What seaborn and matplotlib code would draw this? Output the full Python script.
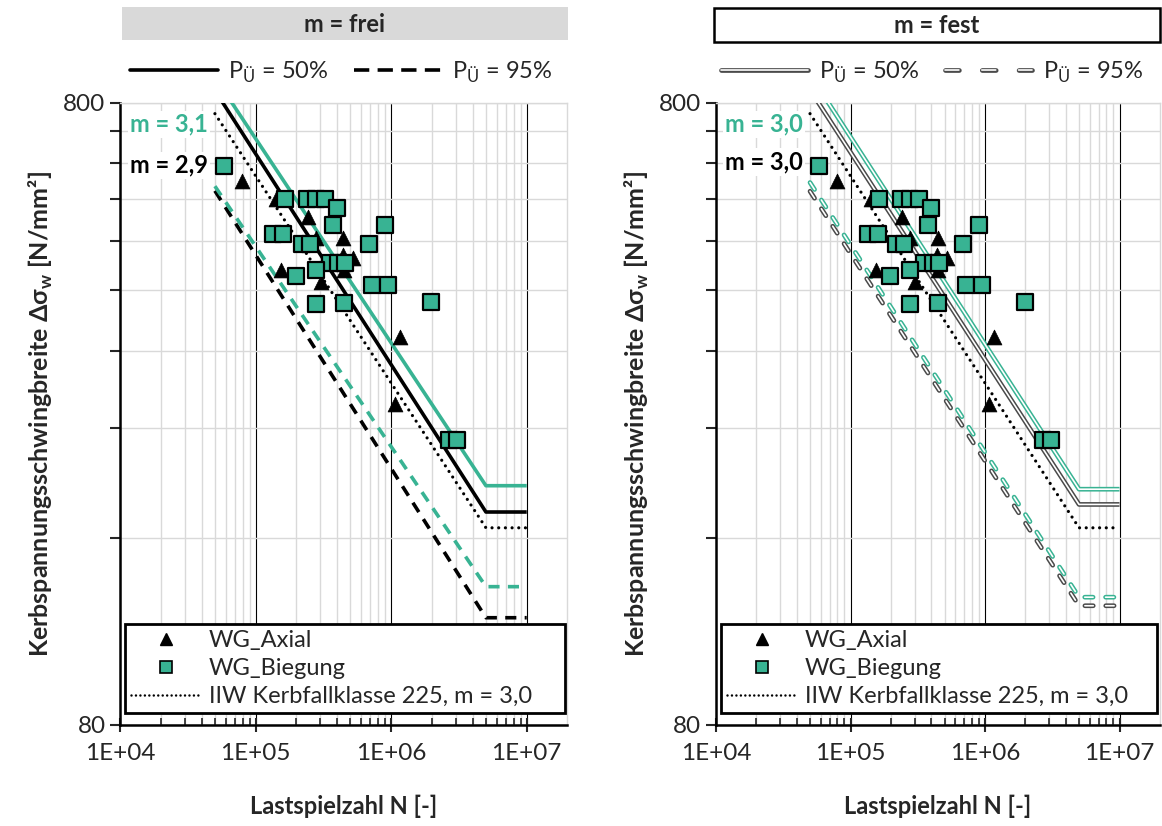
import numpy as np
import matplotlib
matplotlib.use("Agg")
import matplotlib.pyplot as plt
import seaborn as sns
from matplotlib.lines import Line2D
from matplotlib.patches import Rectangle
from matplotlib.ticker import FixedLocator, NullFormatter, FixedFormatter

sns.set_theme(style="white")
plt.rcParams['font.family'] = ['Lato', 'DejaVu Sans']
plt.rcParams['mathtext.fontset'] = 'custom'
plt.rcParams['mathtext.rm'] = 'Lato'
plt.rcParams['mathtext.bf'] = 'Lato:bold'
plt.rcParams['lines.scale_dashes'] = False

# test data
N_axial = [78800, 141000, 154000, 242000, 277000, 302000, 444000, 440000, 520000, 450000, 1070000, 1160000]
S_axial = [600, 560, 431, 525, 486, 413, 486, 455, 450, 431, 263, 337]

N_biegung = [58600, 164000, 238000, 279000, 325000, 396000, 374000, 900000, 135000, 160000,
             218000, 252000, 689000, 353000, 408000, 456000, 277000, 197000, 726000, 944000,
             277000, 451000, 1970000, 2680000, 3070000]
S_biegung = [633, 560, 560, 560, 560, 543, 510, 510, 492, 492,
             475, 475, 475, 442, 442, 442, 431, 422, 408, 408,
             380, 382, 383, 230, 230]

# S-N curves: start, knee point, end
N_curve = [5e4, 5e6, 1e7]
iiw_225 = [769, 166, 166]
# m = frei
frei_axial_50 = [838, 176, 176]
frei_bieg_50 = [880, 194, 194]
frei_axial_95 = [578, 119, 119]
frei_bieg_95 = [588, 133.5, 133.5]
# m = fest
fest_axial_50 = [840, 181, 181]
fest_bieg_50 = [889, 191.5, 191.5]
fest_axial_95 = [577, 124.4, 124.4]
fest_bieg_95 = [596, 128.4, 128.4]

x_ticks = [1e4, 1e5, 1e6, 1e7]
x_labels = ['1E+04', '1E+05', '1E+06', '1E+07']
teal = '#38b393'
grey = '#4a4a4a'
dash = (0, (8, 6))
dash2 = (0, (6, 9))
dots = (0, (0.01, 4.8))

fig = plt.figure(figsize=(11.62, 8.26), dpi=100)
ax1 = fig.add_axes([0.10344, 0.12228, 0.38494, 0.75303])
ax2 = fig.add_axes([0.61618, 0.12228, 0.38210, 0.75303])


def style_axis(ax):
    ax.set_xscale('log')
    ax.set_yscale('log')
    ax.set_xlim(1e4, 2e7)
    ax.set_ylim(80, 800)
    ax.set_facecolor('white')
    ax.set_axisbelow(True)
    xminor = [k * 10**e for e in range(4, 7) for k in range(2, 10)]
    ax.xaxis.set_major_locator(FixedLocator(x_ticks))
    ax.xaxis.set_major_formatter(FixedFormatter(x_labels))
    ax.xaxis.set_minor_locator(FixedLocator(xminor))
    ax.xaxis.set_minor_formatter(NullFormatter())
    ax.yaxis.set_major_locator(FixedLocator([80, 800]))
    ax.yaxis.set_major_formatter(FixedFormatter(['80', '800']))
    ax.yaxis.set_minor_locator(FixedLocator([80 * k for k in range(2, 10)]))
    ax.yaxis.set_minor_formatter(NullFormatter())
    ax.grid(which='minor', color='#d9d9d9', lw=1)
    ax.grid(which='major', axis='y', color='#d9d9d9', lw=1)
    ax.grid(which='major', axis='x', color='black', lw=0.8)
    ax.tick_params(axis='x', which='major', direction='inout', length=10, width=1.5,
                   labelsize=17.5, pad=8, bottom=True)
    ax.tick_params(axis='x', which='minor', direction='in', length=5, width=1.2, bottom=True)
    ax.tick_params(axis='y', which='both', direction='out', length=7, width=1.5,
                   labelsize=17.5, left=True)
    for s in ['left', 'bottom']:
        ax.spines[s].set_color('black')
        ax.spines[s].set_linewidth(1.8)
    for s in ['top', 'right']:
        ax.spines[s].set_color('#d9d9d9')
        ax.spines[s].set_linewidth(1)
    ax.set_xlabel('Lastspielzahl N [-]', fontsize=17, fontweight='bold', labelpad=22)
    ax.set_ylabel('Kerbspannungsschwingbreite Δσ$_\\mathbf{w}$ [N/mm²]', fontsize=18,
                  fontweight='bold', labelpad=6)


def curve(ax, y, color, lw, ls, cap='butt', z=3):
    sns.lineplot(x=N_curve, y=y, ax=ax, color=color, lw=lw, linestyle=ls,
                 dash_capstyle=cap, solid_capstyle='butt', estimator=None, sort=False,
                 legend=False, zorder=z)


def points(ax):
    sns.scatterplot(x=N_axial, y=S_axial, ax=ax, marker='^', s=115, color='black',
                    edgecolor='black', linewidth=0.5, zorder=5, legend=False)
    sns.scatterplot(x=N_biegung, y=S_biegung, ax=ax, marker='s', s=120, color=teal,
                    edgecolor='black', linewidth=1.6, zorder=6, legend=False)


def data_legend(ax):
    h = [Line2D([], [], marker='^', color='black', ls='none', markersize=9),
         Line2D([], [], marker='s', markerfacecolor=teal, markeredgecolor='black',
                markeredgewidth=1.2, ls='none', markersize=9),
         Line2D([], [], color='black', lw=1.8, ls=(0, (0.01, 3.2)), dash_capstyle='round')]
    lab = ['WG_Axial', 'WG_Biegung', 'IIW Kerbfallklasse 225, m = 3,0']
    leg = ax.legend(h, lab, loc='lower left', bbox_to_anchor=(0.011, 0.019, 0.983, 0.15),
                    mode='expand', borderaxespad=0, fontsize=17, handlelength=3.0,
                    handletextpad=0.3, labelspacing=0.3, borderpad=0.25,
                    fancybox=False, framealpha=1, edgecolor='black')
    leg.get_frame().set_linewidth(2)
    leg.set_zorder(10)


# ---- left: m = frei
style_axis(ax1)
curve(ax1, iiw_225, 'black', 2.3, dots, cap='round')
curve(ax1, frei_axial_95, 'black', 2.6, dash)
curve(ax1, frei_bieg_95, teal, 2.6, dash)
curve(ax1, frei_axial_50, 'black', 2.6, '-')
curve(ax1, frei_bieg_50, teal, 2.6, '-')
points(ax1)
data_legend(ax1)
tb = dict(facecolor='white', edgecolor='none', pad=1.5)
ax1.text(0.022, 0.966, 'm = 3,1', transform=ax1.transAxes, color=teal, fontsize=17,
         fontweight='bold', va='center', ha='left', bbox=tb, zorder=7)
ax1.text(0.022, 0.900, 'm = 2,9', transform=ax1.transAxes, color='black', fontsize=17,
         fontweight='bold', va='center', ha='left', bbox=tb, zorder=7)

# ---- right: m = fest (double lines)
style_axis(ax2)
curve(ax2, iiw_225, 'black', 2.3, dots, cap='round')
for y, c in [(fest_axial_95, grey), (fest_bieg_95, teal)]:
    curve(ax2, y, c, 3.4, dash2, cap='round')
    curve(ax2, y, 'white', 1.2, dash2, cap='round')
for y, c in [(fest_axial_50, grey), (fest_bieg_50, teal)]:
    curve(ax2, y, c, 3.4, '-')
    curve(ax2, y, 'white', 1.2, '-')
points(ax2)
data_legend(ax2)
ax2.text(0.02, 0.966, 'm = 3,0', transform=ax2.transAxes, color=teal, fontsize=17,
         fontweight='bold', va='center', ha='left', bbox=tb, zorder=7)
ax2.text(0.02, 0.905, 'm = 3,0', transform=ax2.transAxes, color='black', fontsize=17,
         fontweight='bold', va='center', ha='left', bbox=tb, zorder=7)

# title boxes
fig.patches.append(Rectangle((0.10499, 0.95157), 0.38382, 0.03995, transform=fig.transFigure,
                             facecolor='#d9d9d9', edgecolor='none'))
fig.patches.append(Rectangle((0.61446, 0.94915), 0.38382, 0.04116, transform=fig.transFigure,
                             facecolor='white', edgecolor='black', lw=1.8))
fig.text(0.2969, 0.9709, 'm = frei', ha='center', va='center', fontsize=17, fontweight='bold')
fig.text(0.8064, 0.9697, 'm = fest', ha='center', va='center', fontsize=17, fontweight='bold')

# P_Ü legends
pu = ['P$_\\mathrm{Ü}$ = 50%', 'P$_\\mathrm{Ü}$ = 95%']
h1 = [Line2D([], [], color='black', lw=2.6),
      Line2D([], [], color='black', lw=2.6, ls=(0, (11, 6)))]
fig.legend(h1, pu, loc='center', bbox_to_anchor=(341.5 / 1162, 1 - 72 / 826), ncol=2,
           frameon=False, fontsize=17, handlelength=3.7, handletextpad=0.45, columnspacing=1.1)
ld = (0, (10, 16.5))
h2 = [(Line2D([], [], color=grey, lw=3.4), Line2D([], [], color='white', lw=1.2)),
      (Line2D([], [], color=grey, lw=3.4, ls=ld, dash_capstyle='round'),
       Line2D([], [], color='white', lw=1.2, ls=ld, dash_capstyle='round'))]
fig.legend(h2, pu, loc='center', bbox_to_anchor=(932 / 1162, 1 - 72 / 826), ncol=2,
           frameon=False, fontsize=17, handlelength=3.7, handletextpad=0.45, columnspacing=1.1)

fig.savefig('out.png', dpi=100, facecolor='white')
